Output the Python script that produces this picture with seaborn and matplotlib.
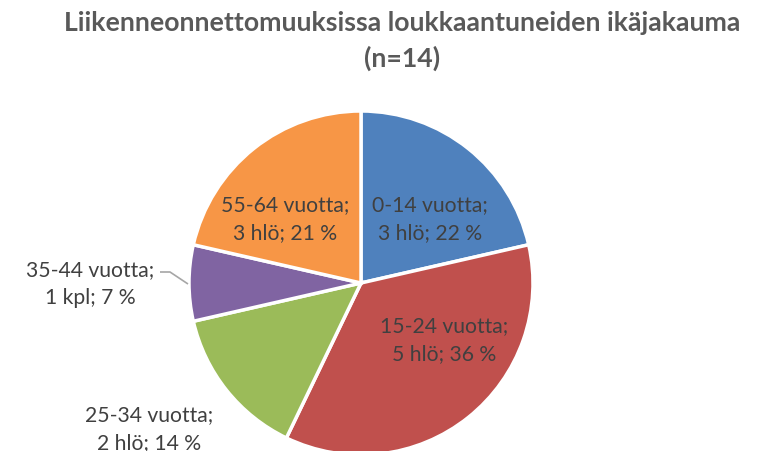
import matplotlib
matplotlib.use("Agg")
import matplotlib.pyplot as plt
import seaborn as sns

categories = ["0-14 vuotta", "15-24 vuotta", "25-34 vuotta", "35-44 vuotta", "55-64 vuotta"]
counts = [3, 5, 2, 1, 3]
units = ["hlö", "hlö", "hlö", "kpl", "hlö"]
percent_labels = ["22 %", "36 %", "14 %", "7 %", "21 %"]
colors = ["#4F81BD", "#C0504D", "#9BBB59", "#8064A2", "#F79646"]

sns.set_theme(style="white")
plt.rcParams['font.family'] = ['Lato', 'DejaVu Sans']

W, H = 763, 452
fig = plt.figure(figsize=(W / 100, H / 100), dpi=100)
ax = fig.add_axes([0, 0, 1, 1])

cx, cy, r = 361, H - 284, 172
wedges, _ = ax.pie(counts, colors=colors, startangle=90, counterclock=False,
                   center=(cx, cy), radius=r,
                   wedgeprops=dict(edgecolor="white", linewidth=2.5))
ax.set_xlim(0, W)
ax.set_ylim(0, H)
ax.set_aspect("equal")
ax.axis("off")

# label positions in pixel coords (x, y from top)
label_pos = [(430, 219), (444, 340), (149, 429), (90, 284), (285, 219)]
for cat, n, u, p, (lx, ly) in zip(categories, counts, units, percent_labels, label_pos):
    ax.text(lx, H - ly, f"{cat};\n{n} {u}; {p}", ha="center", va="center",
            fontsize=15.2, color="#404040", linespacing=1.5)

# leader line for small slice
ax.plot([160, 170, 188], [H - 273, H - 273, H - 285], color="#A6A6A6", lw=1.2,
        solid_capstyle="butt")

fig.text(402 / W, 1 - 41 / H,
         "Liikenneonnettomuuksissa loukkaantuneiden ikäjakauma\n(n=14)",
         ha="center", va="center", fontsize=19.2, fontweight="bold",
         color="#595959", linespacing=1.55)

fig.savefig("out.png", dpi=100)
